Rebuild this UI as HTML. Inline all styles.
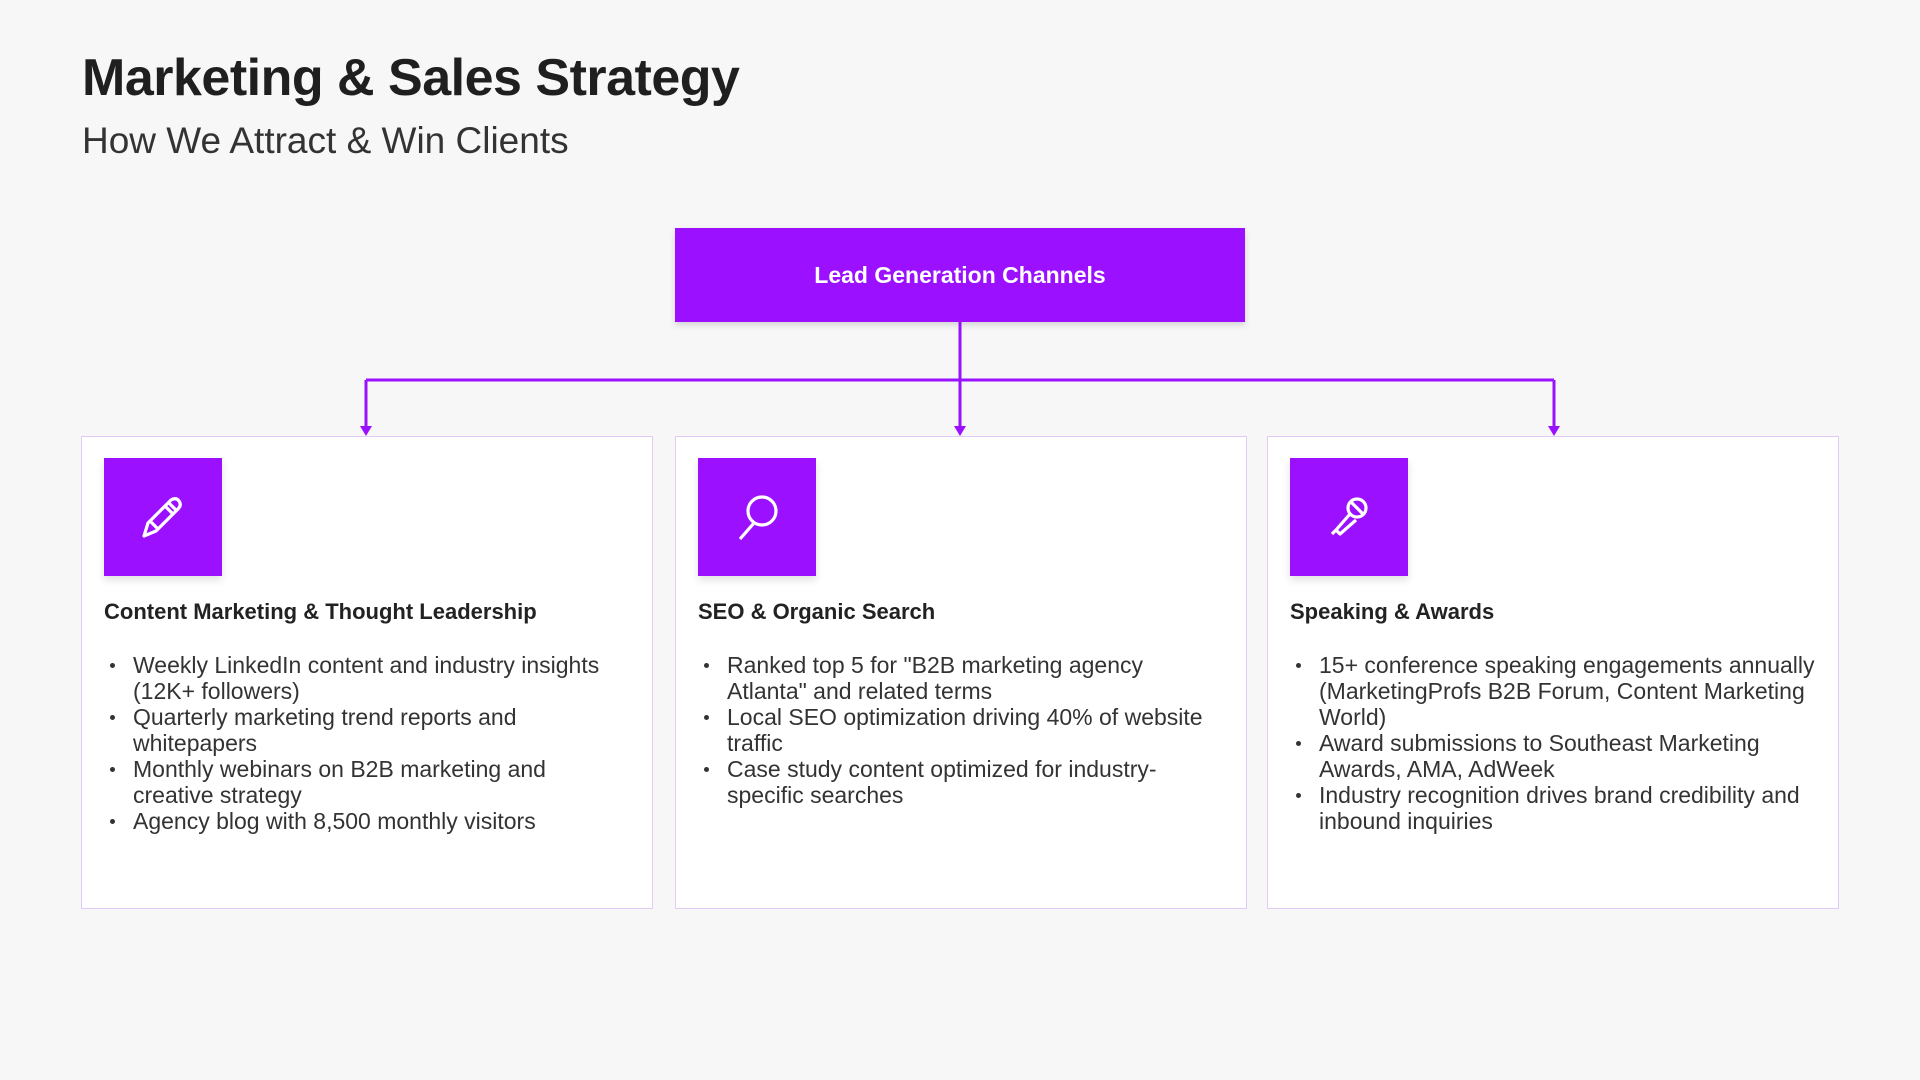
<!DOCTYPE html>
<html><head><meta charset="utf-8"><style>
*{margin:0;padding:0;box-sizing:border-box}
body{width:1920px;height:1080px;background:#f7f7f7;font-family:"Liberation Sans",sans-serif;color:#222;position:relative;overflow:hidden}
.t{position:absolute;left:82px;top:48px;font-size:52px;font-weight:bold;letter-spacing:-0.5px;color:#1f1f1f}
.s{position:absolute;left:82px;top:120px;font-size:37px;color:#333}
.top{position:absolute;left:675px;top:228px;width:570px;height:94px;background:#9a10ff;color:#fff;font-weight:bold;font-size:23px;display:flex;align-items:center;justify-content:center;box-shadow:0 3px 6px rgba(0,0,0,.15)}
.card{position:absolute;top:436px;width:572px;height:473px;background:#fff;border:1.5px solid #e2ccf7}
.ic{position:absolute;left:22px;top:21px;width:118px;height:118px;background:#9a10ff;box-shadow:0 4px 8px rgba(0,0,0,.12);display:flex;align-items:center;justify-content:center}
.h{position:absolute;left:22px;top:162px;font-size:22px;font-weight:bold;color:#222}
ul{position:absolute;left:28px;top:215px;width:520px;list-style:none;font-size:23px;line-height:26px;color:#333}
li{position:relative;padding-left:23px}
li:before{content:"";position:absolute;left:0;top:11px;width:5px;height:5px;border-radius:50%;background:#333}
</style></head><body>
<div class="t">Marketing &amp; Sales Strategy</div>
<div class="s">How We Attract &amp; Win Clients</div>
<div class="top">Lead Generation Channels</div>
<svg width="1920" height="1080" style="position:absolute;left:0;top:0">
<g stroke="#9a10ff" stroke-width="3" fill="none">
<path d="M960 322V432M366 380H1554M366 380V432M1554 380V432"/>
</g>
<g fill="#9a10ff">
<path d="M360 426L366 436L372 426Z"/><path d="M954 426L960 436L966 426Z"/><path d="M1548 426L1554 436L1560 426Z"/>
</g>
</svg>
<div class="card" style="left:81px">
<div class="ic"><svg width="50" height="50" viewBox="0 0 50 50" fill="none" stroke="#fff" stroke-width="3.2" stroke-linejoin="round"><path d="M6 44L10 31L33 8Q38 5 41 9Q44 13 40 17L18 39Z"/><path d="M12 29L20 37M27 14L34 21M31 11L38 18"/></svg></div>
<div class="h">Content Marketing &amp; Thought Leadership</div>
<ul><li>Weekly LinkedIn content and industry insights (12K+ followers)</li><li>Quarterly marketing trend reports and whitepapers</li><li>Monthly webinars on B2B marketing and creative strategy</li><li>Agency blog with 8,500 monthly visitors</li></ul>
</div>
<div class="card" style="left:675px">
<div class="ic"><svg width="54" height="54" viewBox="0 0 54 54" fill="none" stroke="#fff" stroke-width="3.2"><circle cx="32" cy="21" r="14"/><path d="M24 33L10 49"/></svg></div>
<div class="h">SEO &amp; Organic Search</div>
<ul><li>Ranked top 5 for "B2B marketing agency Atlanta" and related terms</li><li>Local SEO optimization driving 40% of website traffic</li><li>Case study content optimized for industry-specific searches</li></ul>
</div>
<div class="card" style="left:1267px">
<div class="ic"><svg width="50" height="50" viewBox="0 0 50 50" fill="none" stroke="#fff" stroke-width="3.2" stroke-linejoin="round"><circle cx="33" cy="16" r="9"/><path d="M27 10L39 22"/><path d="M26 22L12 38L16 42L32 28"/><path d="M12 38L8 42"/></svg></div>
<div class="h">Speaking &amp; Awards</div>
<ul><li>15+ conference speaking engagements annually (MarketingProfs B2B Forum, Content Marketing World)</li><li>Award submissions to Southeast Marketing Awards, AMA, AdWeek</li><li>Industry recognition drives brand credibility and inbound inquiries</li></ul>
</div>
</body></html>
